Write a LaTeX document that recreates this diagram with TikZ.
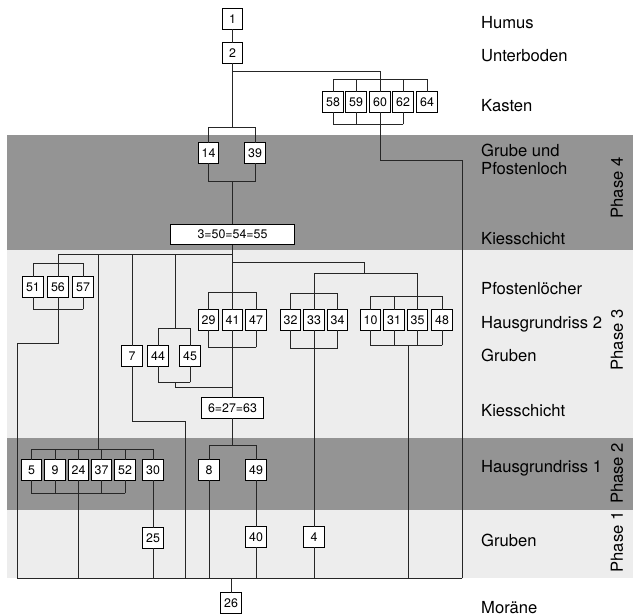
\documentclass[tikz,border=0pt]{standalone}
\usepackage{fontspec}
\setmainfont{TeX Gyre Heros}
\begin{document}
\begin{tikzpicture}[x=1pt,y=-1pt,
  box/.style={draw=black, fill=white, line width=0.7pt, minimum width=20.5pt, minimum height=20.5pt, inner sep=0pt, font=\fontsize{12.4}{14}\selectfont},
  ln/.style={draw=black!85, line width=0.75pt, line cap=rect},
  lab/.style={anchor=base west, inner sep=0pt, font=\fontsize{16.6}{18.5}\selectfont},
  ph/.style={rotate=90, inner sep=0pt, font=\fontsize{16.6}{18.5}\selectfont}
]
\useasboundingbox (0,0) rectangle (633,616);
% bands
\fill[black!7] (7,250) rectangle (633,438);
\fill[black!7] (7,510) rectangle (633,578);
\fill[black!42] (7,135) rectangle (633,250);
\fill[black!42] (7,438) rectangle (633,510);

% nodes
\node[box] (n1) at (232.5,19) {1};
\node[box] (n2) at (232.5,53) {2};
\node[box] (n58) at (333,102) {58};
\node[box] (n59) at (356,102) {59};
\node[box] (n60) at (380,102) {60};
\node[box] (n62) at (403,102) {62};
\node[box] (n64) at (427,102) {64};
\node[box] (n14) at (208.5,153) {14};
\node[box] (n39) at (255,153) {39};
\node[box, minimum width=124pt] (n3) at (232.5,234.5) {3=50=54=55};
\node[box] (n51) at (33,287) {51};
\node[box] (n56) at (58,287) {56};
\node[box] (n57) at (83,287) {57};
\node[box] (n7) at (132,356) {7};
\node[box] (n44) at (158,356) {44};
\node[box] (n45) at (190,356) {45};
\node[box] (n29) at (208.5,320) {29};
\node[box] (n41) at (232.5,320) {41};
\node[box] (n47) at (256,320) {47};
\node[box] (n32) at (290.5,320) {32};
\node[box] (n33) at (314,320) {33};
\node[box] (n34) at (337.5,320) {34};
\node[box] (n10) at (370.5,320) {10};
\node[box] (n31) at (394,320) {31};
\node[box] (n35) at (417.5,320) {35};
\node[box] (n48) at (442,320) {48};
\node[box, minimum width=62pt] (n6) at (232.5,408) {6=27=63};
\node[box] (n5) at (31.5,470) {5};
\node[box] (n9) at (55,470) {9};
\node[box] (n24) at (78.5,470) {24};
\node[box] (n37) at (101.5,470) {37};
\node[box] (n52) at (125,470) {52};
\node[box] (n30) at (153,470) {30};
\node[box] (n8) at (209,470) {8};
\node[box] (n49) at (256,470) {49};
\node[box] (n25) at (153,538) {25};
\node[box] (n40) at (256,537) {40};
\node[box] (n4) at (314,537) {4};
\node[box] (n26) at (231,603) {26};

% coordinates
\coordinate (bot) at (0,578);
\coordinate (j71) at (0,71);
\coordinate (t58) at (0,79);
\coordinate (u58) at (0,124);
\coordinate (r60) at (462,160);
\coordinate (t14) at (0,127);
\coordinate (u14) at (0,181);
\coordinate (h254) at (0,254);
\coordinate (t56) at (0,263);
\coordinate (u56) at (0,309);
\coordinate (k56) at (17,343);
\coordinate (v98) at (98,254);
\coordinate (v175) at (175,254);
\coordinate (t44) at (0,328);
\coordinate (u44) at (0,382);
\coordinate (k44) at (0,387);
\coordinate (k7) at (185,421);
\coordinate (j262) at (364,262);
\coordinate (h273) at (0,273);
\coordinate (t29) at (0,292);
\coordinate (u29) at (0,347);
\coordinate (t32) at (0,293);
\coordinate (u32) at (0,348);
\coordinate (t10) at (0,296);
\coordinate (u10) at (0,345);
\coordinate (x408) at (408,345);
\coordinate (t8) at (0,445);
\coordinate (t5) at (0,449);
\coordinate (u5) at (0,493);

% top
\draw[ln] (n1) -- (n2);
\foreach \n in {58,59,60,62,64} \draw[ln] (n\n.north) -- (n\n.north |- t58);
\draw[ln] (n58.north |- t58) -- (n64.north |- t58);
\foreach \n in {58,59,60,62} \draw[ln] (n\n.south) -- (n\n.south |- u58);
\draw[ln] (n58.south |- u58) -- (n62.south |- u58);
\draw[ln] (n2.south |- j71) -| (n60.north |- t58);
\draw[ln] (n60.south |- u58) |- (r60) -- (r60 |- bot);

% 14 / 39
\draw[ln] (n2) -- (n2.south |- t14);
\draw[ln] (n14.north) |- (t14 -| n39.north) -- (n39.north);
\draw[ln] (n14.south) |- (u14 -| n39.south) -- (n39.south);
\draw[ln] (n2.south |- u14) -- (n3.north);

% below 3=50=54=55
\draw[ln] (n3.south) -- (n41.north |- t29);
\draw[ln] (n3.south |- h254) -| (n56.north |- t56);
\foreach \n in {51,56,57} \draw[ln] (n\n.north) -- (n\n.north |- t56);
\draw[ln] (n51.north |- t56) -- (n57.north |- t56);
\foreach \n in {51,56,57} \draw[ln] (n\n.south) -- (n\n.south |- u56);
\draw[ln] (n51.south |- u56) -- (n57.south |- u56);
\draw[ln] (n56.south |- u56) |- (k56) -- (k56 |- bot);

\draw[ln] (v98) -- (v98 |- t5);
\draw[ln] (n7.north |- h254) -- (n7.north);
\draw[ln] (n7.south) |- (k7) -- (k7 |- bot);
\draw[ln] (v175) -- (v175 |- t44);
\foreach \n in {44,45} {\draw[ln] (n\n.north) -- (n\n.north |- t44); \draw[ln] (n\n.south) -- (n\n.south |- u44);}
\draw[ln] (n44.north |- t44) -- (n45.north |- t44);
\draw[ln] (n44.south |- u44) -- (n45.south |- u44);
\draw[ln] (v175 |- u44) |- (n41.south |- k44);

% 29 / 41 / 47
\foreach \n in {29,41,47} {\draw[ln] (n\n.north) -- (n\n.north |- t29); \draw[ln] (n\n.south) -- (n\n.south |- u29);}
\draw[ln] (n29.north |- t29) -- (n47.north |- t29);
\draw[ln] (n29.south |- u29) -- (n47.south |- u29);
\draw[ln] (n41.south |- u29) -- (n6.north);

% branch right
\draw[ln] (n3.south |- j262) -| (j262 |- h273);
\draw[ln] (n33.north |- t32) |- (h273 -| n35.north) -- (n35.north |- t10);

% 32 / 33 / 34
\foreach \n in {32,33,34} \draw[ln] (n\n.north) -- (n\n.north |- t32);
\draw[ln] (n32.north |- t32) -- (n34.north |- t32);
\foreach \n in {32,34} \draw[ln] (n\n.south) -- (n\n.south |- u32);
\draw[ln] (n32.south |- u32) -- (n34.south |- u32);
\draw[ln] (n33) -- (n4);
\draw[ln] (n4.south) -- (n4.south |- bot);

% 10 / 31 / 35 / 48
\foreach \n in {10,31,35,48} {\draw[ln] (n\n.north) -- (n\n.north |- t10); \draw[ln] (n\n.south) -- (n\n.south |- u10);}
\draw[ln] (n10.north |- t10) -- (n48.north |- t10);
\draw[ln] (n10.south |- u10) -- (n48.south |- u10);
\draw[ln] (x408) -- (x408 |- bot);

% 6=27=63
\draw[ln] (n6.south) -- (n6.south |- t8);
\draw[ln] (n8.north) |- (t8 -| n49.north) -- (n49.north);
\draw[ln] (n8.south) -- (n8.south |- bot);
\draw[ln] (n49) -- (n40);
\draw[ln] (n40.south) -- (n40.south |- bot);

% 5 group
\foreach \n in {5,9,24,37,52,30} \draw[ln] (n\n.north) -- (n\n.north |- t5);
\draw[ln] (n5.north |- t5) -- (n30.north |- t5);
\foreach \n in {5,9,24,37,52} \draw[ln] (n\n.south) -- (n\n.south |- u5);
\draw[ln] (n5.south |- u5) -- (n52.south |- u5);
\draw[ln] (n24.south) -- (n24.south |- bot);
\draw[ln] (n30) -- (n25);
\draw[ln] (n25.south) -- (n25.south |- bot);

% bottom
\draw[ln] (k56 |- bot) -- (r60 |- bot);
\draw[ln] (n26.north |- bot) -- (n26.north);

% labels
\node[lab] (lHumus) at (481,28) {Humus};
\node[lab] (lUnter) at (481,61.5) {Unterboden};
\node[lab] (lKasten) at (481,111) {Kasten};
\node[lab] (lGrube) at (481,156) {Grube und};
\node[lab] (lPfl) at (481,174.5) {Pfostenloch};
\node[lab] (lKies1) at (481,244) {Kiesschicht};
\node[lab] (lPfls) at (481,294) {Pfostenlöcher};
\node[lab] (lHaus2) at (481,328) {Hausgrundriss 2};
\node[lab] (lGrub1) at (481,361.5) {Gruben};
\node[lab] (lKies2) at (481,416) {Kiesschicht};
\node[lab] (lHaus1) at (481,472) {Hausgrundriss 1};
\node[lab] (lGrub2) at (481,546) {Gruben};
\node[lab] (lMor) at (481,613) {Moräne};

\node[ph] (p4) at (617,188) {Phase 4};
\node[ph] (p3) at (617,340) {Phase 3};
\node[ph] (p2) at (617,473.5) {Phase 2};
\node[ph] (p1) at (617,542) {Phase 1};
\end{tikzpicture}
\end{document}
